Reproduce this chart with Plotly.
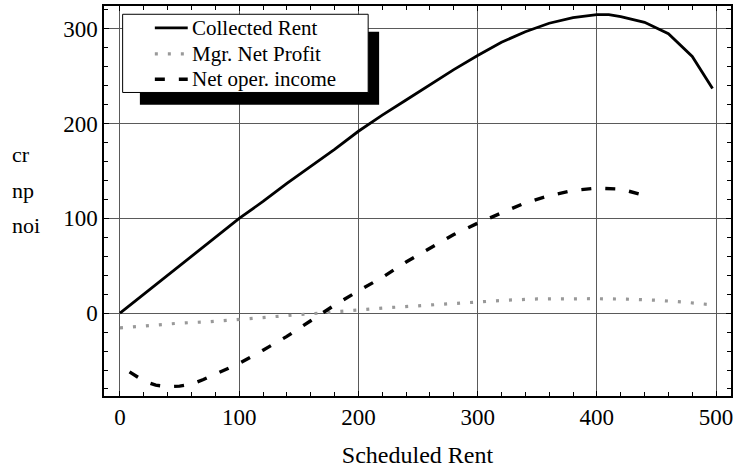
import plotly.graph_objects as go

# Collected rent vs. scheduled rent
cr_x = [0, 20, 40, 60, 80, 100, 120, 140, 160, 180, 200, 220, 240, 260, 280,
        300, 320, 340, 360, 380, 400, 410, 420, 440, 460, 480, 497]
cr_y = [0, 20, 40, 60, 80, 100, 118, 137, 155, 173, 192, 209, 225, 241, 257,
        272, 286, 297, 306, 312, 315, 315, 313, 307, 295, 271, 237]

# Manager net profit
np_x = [0, 25, 50, 75, 100, 125, 150, 175, 200, 225, 250, 275, 300, 325, 350,
        375, 400, 425, 450, 475, 495]
np_y = [-15.5, -12.8, -10.5, -9, -6.5, -4, -1.4, 1.3, 3.6, 5.8, 7.8, 9.9, 12,
        13.8, 15, 15.4, 15.3, 14.8, 13.7, 11.5, 9]

# Net operating income
noi_x = [8, 20, 30, 40, 50, 60, 70, 80, 90, 100, 120, 140, 160, 180, 200, 220,
         240, 260, 280, 300, 320, 340, 360, 380, 400, 420, 441]
noi_y = [-62, -71.5, -76, -77.5, -77, -75, -70, -64.5, -59, -53, -39, -24.5, -8,
         8.5, 23.5, 37.8, 54, 69, 83, 95, 106, 116.5, 124, 129.5, 132, 131, 124]

x_ticks = [0, 100, 200, 300, 400, 500]
y_ticks = [0, 100, 200, 300]

series_names = ["Collected Rent", "Mgr. Net Profit", "Net oper. income"]
y_labels = ["cr", "np", "noi"]

FONT = "Liberation Serif"
W, H = 737, 472
ML, MR, MT, MB = 104, 4, 5, 76
PW, PH = W - ML - MR, H - MT - MB

styles = [
    dict(color="black", width=2.8, dash="solid"),
    dict(color="#999999", width=3.2, dash="3px,10px"),
    dict(color="black", width=3.4, dash="10px,14px"),
]


def px_x(p):
    """Pixel column -> paper x."""
    return (p - ML) / PW


def px_y(p):
    """Pixel row -> paper y."""
    return 1 - (p - MT) / PH


fig = go.Figure()
for name, xs, ys, st in zip(series_names, [cr_x, np_x, noi_x],
                            [cr_y, np_y, noi_y], styles):
    fig.add_trace(go.Scatter(x=xs, y=ys, mode="lines", name=name,
                             line=st, showlegend=False))

axis_common = dict(
    showgrid=True, gridcolor="#5a5a5a", gridwidth=1,
    zeroline=False,
    showline=True, linecolor="black", linewidth=1.5, mirror="ticks",
    ticks="inside", ticklen=5, tickwidth=1, tickcolor="black",
    minor=dict(ticks="inside", ticklen=4, tickcolor="black", showgrid=False),
    tickfont=dict(family=FONT, size=23, color="black"),
)

fig.update_xaxes(range=[-13.4, 512.5], tickvals=x_ticks, minor_dtick=20,
                 title=dict(text="Scheduled Rent",
                            font=dict(family=FONT, size=24, color="black"),
                            standoff=17),
                 **axis_common)
fig.update_yaxes(range=[-87.4, 324.2], tickvals=y_ticks, minor_dtick=20,
                 **axis_common)

# Legend: drop shadow, framed white box, line samples and labels
fig.add_shape(type="rect", xref="paper", yref="paper",
              x0=px_x(140), x1=px_x(380), y0=px_y(104), y1=px_y(30.7),
              fillcolor="black", line=dict(width=0), layer="above")
fig.add_shape(type="rect", xref="paper", yref="paper",
              x0=px_x(122.7), x1=px_x(369), y0=px_y(91.7), y1=px_y(13.3),
              fillcolor="white", line=dict(color="black", width=1),
              layer="above")
row_y = [27, 53, 78.5]
for name, st, ry in zip(series_names, styles, row_y):
    fig.add_shape(type="line", xref="paper", yref="paper",
                  x0=px_x(155), x1=px_x(188), y0=px_y(ry), y1=px_y(ry),
                  line=st, layer="above")
    fig.add_annotation(text=name, xref="paper", yref="paper",
                       x=px_x(190), y=px_y(ry), xanchor="left",
                       yanchor="middle", showarrow=False,
                       font=dict(family=FONT, size=21, color="black"))

# Stacked variable names on the left
for label, ry in zip(y_labels, [154, 189.6, 225.5]):
    fig.add_annotation(text=label, xref="paper", yref="paper",
                       x=px_x(9.3), y=px_y(ry), xanchor="left",
                       yanchor="middle", showarrow=False,
                       font=dict(family=FONT, size=22, color="black"))

fig.update_layout(
    width=W, height=H,
    margin=dict(l=ML, r=MR, t=MT, b=MB),
    paper_bgcolor="white", plot_bgcolor="white",
    font=dict(family=FONT, color="black"),
    showlegend=False,
)

fig.write_html("out.html")
